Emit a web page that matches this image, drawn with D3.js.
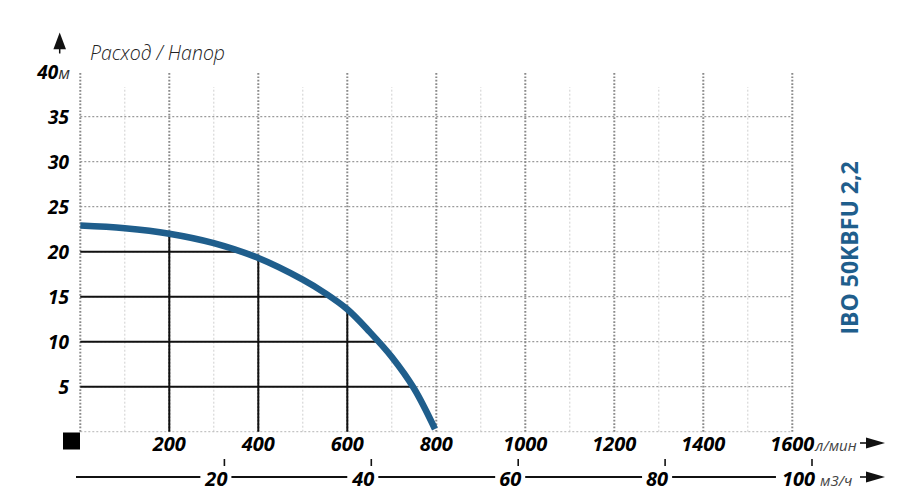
<!DOCTYPE html>
<html><head><meta charset="utf-8">
<script src="https://cdn.jsdelivr.net/npm/d3@7"></script>
<style>body{margin:0;background:#fff} svg{display:block}</style>
</head><body><svg id="c" width="915" height="501"></svg>
<script>
// ---- data ----
const flowLpm = [0, 100, 200, 300, 400, 500, 550, 600, 650, 700, 750, 797];
const headM   = [22.9, 22.6, 22.0, 20.95, 19.3, 16.9, 15.4, 13.6, 11.1, 8.3, 4.8, 0.3];
const xTicks = [200, 400, 600, 800, 1000, 1200, 1400, 1600];
const yTicks = [5, 10, 15, 20, 25, 30, 35, 40];
const m3hTicks = [20, 40, 60, 80, 100];
const refHeads = [5, 10, 15, 20];
const refFlows = [200, 400, 600];
const title = "IBO 50KBFU 2,2";
const axisTitle = "Расход / Напор";
const unitFlow = "л/мин", unitHead = "м", unitM3 = "м3/ч";

// ---- setup ----
const svg = d3.select("#c");
const x = d3.scaleLinear().domain([0, 1600]).range([80.3, 792.3]);
const y = d3.scaleLinear().domain([0, 40]).range([431.7, 71.7]);
const q = d3.scaleLinear().domain([0, 100]).range([77.5, 812]);
const font = "'Open Sans','Liberation Sans',sans-serif";
const blue = "#1f5e8c";

const headAt = d3.scaleLinear().domain(flowLpm).range(headM);
const flowAt = d3.scaleLinear().domain(headM).range(flowLpm);

// minor vertical grid
svg.append("g").selectAll("line").data(d3.range(100, 1600, 200)).join("line")
  .attr("x1", d => x(d)).attr("x2", d => x(d))
  .attr("y1", y(0)).attr("y2", y(38.3))
  .attr("stroke", "#cfcfcf").attr("stroke-width", 1).attr("stroke-dasharray", "2,2");
// horizontal grid
svg.append("g").selectAll("line").data(d3.range(0, 40, 5)).join("line")
  .attr("x1", x(0)).attr("x2", x(1600))
  .attr("y1", d => y(d)).attr("y2", d => y(d))
  .attr("stroke", d => d === 0 ? "#c4c4c4" : "#9a9a9a")
  .attr("stroke-width", 1.3).attr("stroke-dasharray", "2,2");
// major vertical grid
svg.append("g").selectAll("line").data(d3.range(0, 1601, 200)).join("line")
  .attr("x1", d => x(d)).attr("x2", d => x(d))
  .attr("y1", y(0)).attr("y2", y(40))
  .attr("stroke", "#8a8a8a").attr("stroke-width", 2).attr("stroke-dasharray", "1.7,1.7");

// black reference lines
svg.append("g").selectAll("line").data(refHeads).join("line")
  .attr("x1", x(0)).attr("x2", d => x(flowAt(d)))
  .attr("y1", d => y(d)).attr("y2", d => y(d))
  .attr("stroke", "#111").attr("stroke-width", 2);
svg.append("g").selectAll("line").data(refFlows).join("line")
  .attr("x1", d => x(d)).attr("x2", d => x(d))
  .attr("y1", y(0)).attr("y2", d => y(headAt(d)))
  .attr("stroke", "#111").attr("stroke-width", 2);

// curve
const pts = flowLpm.map((f, i) => [f, headM[i]]);
svg.append("path")
  .attr("d", d3.line().x(d => x(d[0])).y(d => y(d[1])).curve(d3.curveCatmullRom.alpha(0.5))(pts))
  .attr("fill", "none").attr("stroke", blue).attr("stroke-width", 6.5);

// y labels
const yl = svg.append("g").attr("font-family", font).attr("font-weight", "bold")
  .attr("font-style", "italic").attr("font-size", 19).attr("text-anchor", "end");
yTicks.forEach(v => {
  const t = yl.append("text").attr("x", v === 40 ? 70 : 69).attr("y", y(v)).attr("dy", "0.36em").text(v);
  if (v === 40) t.append("tspan").attr("font-weight", "normal").attr("font-size", 17)
    .attr("fill", "#333").text(unitHead);
});

// x labels
const xl = svg.append("g").attr("font-family", font).attr("font-weight", "bold")
  .attr("font-style", "italic").attr("font-size", 20).attr("text-anchor", "middle");
let lastX;
xTicks.forEach(v => { lastX = xl.append("text").attr("x", x(v)).attr("y", 451).text(v); });
const lb = lastX.node().getBBox();
svg.append("text").attr("x", lb.x + lb.width + 1).attr("y", 451)
  .attr("font-family", font).attr("font-style", "italic").attr("font-size", 15)
  .attr("fill", "#444").text(unitFlow);

// m3/h axis
const mg = svg.append("g");
const ml = svg.append("g").attr("font-family", font).attr("font-weight", "bold")
  .attr("font-style", "italic").attr("font-size", 20).attr("text-anchor", "end");
const boxes = [];
m3hTicks.forEach(v => {
  const t = ml.append("text").attr("x", q(v) + 3).attr("y", 485.5).text(v);
  boxes.push(t.node().getBBox());
});
const last = boxes[boxes.length - 1];
mg.append("line").attr("x1", q(0) - 1.5).attr("x2", last.x - 6)
  .attr("y1", 477).attr("y2", 477).attr("stroke", "#111").attr("stroke-width", 2.2);
mg.selectAll("rect").data(boxes.slice(0, -1)).join("rect")
  .attr("x", b => b.x - 4).attr("width", b => b.width + 8)
  .attr("y", 468).attr("height", 20).attr("fill", "#fff");
mg.selectAll("line.tk").data(m3hTicks).join("line").attr("class", "tk")
  .attr("x1", d => q(d)).attr("x2", d => q(d)).attr("y1", 459).attr("y2", 466)
  .attr("stroke", "#111").attr("stroke-width", 1.6);
svg.append("text").attr("x", last.x + last.width + 5).attr("y", 485.5)
  .attr("font-family", font).attr("font-style", "italic").attr("font-size", 15)
  .attr("fill", "#444").text(unitM3);

// arrows
function rightArrow(cy) {
  svg.append("line").attr("x1", 860).attr("x2", 868).attr("y1", cy).attr("y2", cy)
    .attr("stroke", "#111").attr("stroke-width", 1.6);
  svg.append("path").attr("d", `M866,${cy - 5.5}L885,${cy}L866,${cy + 5.5}Z`).attr("fill", "#111");
}
rightArrow(443);
rightArrow(477);
svg.append("path").attr("d", "M59.7,32.5L66,49.3L53.4,49.3Z").attr("fill", "#111");
svg.append("line").attr("x1", 59.7).attr("x2", 59.7).attr("y1", 48).attr("y2", 53.5)
  .attr("stroke", "#111").attr("stroke-width", 1.5);

// black square
svg.append("rect").attr("x", 63).attr("y", 432.5).attr("width", 17).attr("height", 17).attr("fill", "#000");

// axis title
svg.append("text").attr("x", 90).attr("y", 59.5).attr("font-family", font)
  .attr("font-style", "italic").attr("font-weight", 300).attr("font-size", 19.5)
  .attr("fill", "#222").text(axisTitle);

// chart title
svg.append("text").attr("transform", "translate(850,248) rotate(-90)")
  .attr("text-anchor", "middle").attr("dy", "0.36em")
  .attr("font-family", font).attr("font-weight", "bold").attr("font-size", 23)
  .attr("fill", blue).text(title);
</script></body></html>
